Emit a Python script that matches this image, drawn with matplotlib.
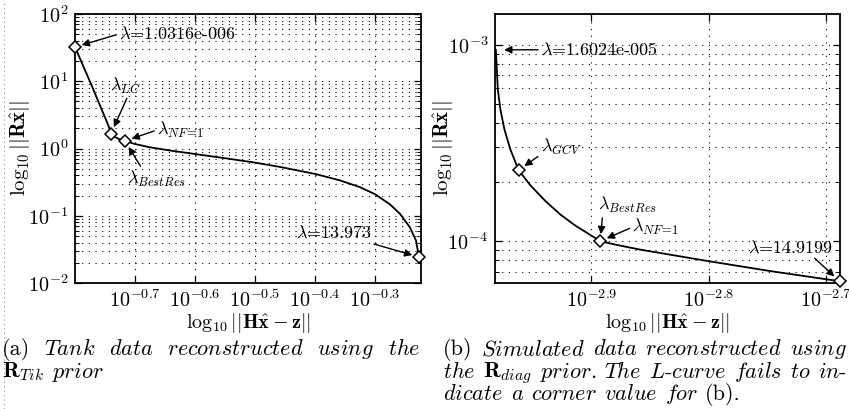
import numpy as np
import matplotlib
matplotlib.use("Agg")
import matplotlib.pyplot as plt
from matplotlib.ticker import FixedLocator, FixedFormatter, NullLocator, LogLocator, NullFormatter
from matplotlib.transforms import IdentityTransform
from matplotlib.lines import Line2D

plt.rcParams['font.family'] = 'serif'
plt.rcParams['font.serif'] = ['cmr10']
plt.rcParams['mathtext.fontset'] = 'cm'
plt.rcParams['axes.formatter.use_mathtext'] = True
plt.rcParams['axes.unicode_minus'] = False

# ---------------- data (a): tank data, R_Tik prior ----------------
res_a = [0.1585, 0.1691, 0.1803, 0.1820, 0.1841, 0.1876, 0.1920, 0.1995, 0.2113,
         0.2282, 0.2512, 0.2872, 0.3162, 0.3480, 0.3981, 0.4382, 0.4732, 0.5012,
         0.5309, 0.5516, 0.5731, 0.5866, 0.5933]
sol_a = [32.3, 8.5, 2.161, 1.671, 1.508, 1.385, 1.294, 1.166, 1.042,
         0.934, 0.828, 0.700, 0.617, 0.532, 0.419, 0.3355, 0.2658, 0.2091,
         0.1475, 0.1066, 0.0671, 0.0427, 0.02435]
mark_a_res = [0.1585, 0.1820, 0.1920, 0.5933]
mark_a_sol = [32.3, 1.671, 1.294, 0.02435]
xtick_a_exp = [-0.7, -0.6, -0.5, -0.4, -0.3]
xtick_a_labels = [r'$10^{-0.7}$', r'$10^{-0.6}$', r'$10^{-0.5}$', r'$10^{-0.4}$', r'$10^{-0.3}$']
xlim_a = (0.1585, 0.5979)
ylim_a = (1e-2, 1e2)

# ---------------- data (b): simulated data, R_diag prior ----------------
res_b = [0.0010440, 0.0010461, 0.0010481, 0.0010534, 0.0010617, 0.0010742, 0.0010917,
         0.0011171, 0.0011506, 0.0011848, 0.0012203, 0.0012565, 0.0012815, 0.0013195,
         0.0013858, 0.0015834, 0.0017876, 0.0020480]
sol_b = [9.43e-4, 7.46e-4, 5.91e-4, 4.68e-4, 3.71e-4, 2.93e-4, 2.30e-4,
         1.924e-4, 1.600e-4, 1.366e-4, 1.199e-4, 1.075e-4, 1.0e-4, 9.60e-5,
         9.05e-5, 7.91e-5, 7.04e-5, 6.25e-5]
mark_b_res = [0.0010917, 0.0012815, 0.0020480]
mark_b_sol = [2.30e-4, 1.0e-4, 6.25e-5]
xtick_b_exp = [-2.9, -2.8, -2.7]
xtick_b_labels = [r'$10^{-2.9}$', r'$10^{-2.8}$', r'$10^{-2.7}$']
xlim_b = (0.0010423, 0.0020479)
ylim_b = (6.12e-5, 1.435e-3)

# annotation labels
ann_a = [r'$\lambda$=1.0316e-006', r'$\lambda_{LC}$', r'$\lambda_{NF\!=\!1}$',
         r'$\lambda_{BestRes}$', r'$\lambda$=13.973']
ann_b = [r'$\lambda$=1.6024e-005', r'$\lambda_{GCV}$', r'$\lambda_{BestRes}$',
         r'$\lambda_{NF\!=\!1}$', r'$\lambda$=14.9199']

ylabel_txt = r'$\log_{10}||\mathbf{R}\hat{\mathbf{x}}||$'
xlabel_txt = r'$\log_{10}||\mathbf{H}\hat{\mathbf{x}}-\mathbf{z}||$'

cap_a = [[r'(a)', r'$\mathit{Tank}$', r'$\mathit{data}$', r'$\mathit{reconstructed}$',
          r'$\mathit{using}$', r'$\mathit{the}$'],
         [r'$\mathbf{R}_{Tik}$', r'$\mathit{prior}$']]
cap_b = [[r'(b)', r'$\mathit{Simulated}$', r'$\mathit{data}$', r'$\mathit{reconstructed}$',
          r'$\mathit{using}$'],
         [r'$\mathit{the}$', r'$\mathbf{R}_{diag}$', r'$\mathit{prior.}$', r'$\mathit{The}$',
          r'$\mathit{L}$-$\mathit{curve}$', r'$\mathit{fails}$', r'$\mathit{to}$', r'$\mathit{in}$-'],
         [r'$\mathit{dicate}$', r'$\mathit{a}$', r'$\mathit{corner}$', r'$\mathit{value}$',
          r'$\mathit{for}$', r'(b).']]

W, H = 849, 409
fig = plt.figure(figsize=(W / 100, H / 100), dpi=100)

def px_axes(l, r, t, b):
    return fig.add_axes([l / W, 1 - b / H, (r - l) / W, (b - t) / H])

ax_a = px_axes(75, 421, 14, 283)
ax_b = px_axes(495, 839.5, 14, 283)

TICK_FS = 14.5
ANN_FS = 13
grid_kw = dict(color='k', linestyle=(0, (1, 5)), linewidth=0.8)

def style_axes(ax, xexp, xlabels, xlim, ylim, ylab_x):
    ax.set_xscale('log')
    ax.set_yscale('log')
    ax.set_xlim(*xlim)
    ax.set_ylim(*ylim)
    ax.xaxis.set_major_locator(FixedLocator([10 ** e for e in xexp]))
    ax.xaxis.set_major_formatter(FixedFormatter(xlabels))
    ax.xaxis.set_minor_locator(NullLocator())
    ax.yaxis.set_major_locator(LogLocator(base=10))
    ax.yaxis.set_minor_locator(LogLocator(base=10, subs=np.arange(2, 10)))
    ax.yaxis.set_minor_formatter(NullFormatter())
    ax.tick_params(which='both', direction='in', top=True, right=True, labelsize=TICK_FS)
    ax.tick_params(which='major', length=5, width=0.9, pad=5)
    ax.tick_params(which='minor', length=3, width=0.7)
    ax.grid(True, which='major', axis='both', **grid_kw)
    ax.grid(True, which='minor', axis='y', **grid_kw)
    for s in ax.spines.values():
        s.set_linewidth(1.3)
    ax.set_ylabel(ylabel_txt, fontsize=15)
    ax.set_xlabel(xlabel_txt, fontsize=14.5, labelpad=0)
    ax.yaxis.set_label_coords(ylab_x, 0.5)

style_axes(ax_a, xtick_a_exp, xtick_a_labels, xlim_a, ylim_a, -0.122)
style_axes(ax_b, xtick_b_exp, xtick_b_labels, xlim_b, ylim_b, -0.113)

ax_a.plot(res_a, sol_a, color='k', lw=1.3, zorder=3)
ax_a.plot(mark_a_res, mark_a_sol, ls='none', marker='D', ms=6.5, mfc='white',
          mec='k', mew=1.1, clip_on=False, zorder=4)
ax_b.plot(res_b, sol_b, color='k', lw=1.3, zorder=3)
ax_b.plot(mark_b_res, mark_b_sol, ls='none', marker='D', ms=6.5, mfc='white',
          mec='k', mew=1.1, clip_on=False, zorder=4)

def ann(ax, text, xy, off_px, ha, va, relpos, shrinkB=5):
    ax.annotate(text, xy=xy, xytext=(off_px[0] * 0.72, off_px[1] * 0.72),
                textcoords='offset points', ha=ha, va=va, fontsize=ANN_FS, zorder=6,
                arrowprops=dict(arrowstyle='-|>', color='k', lw=1.0, mutation_scale=11,
                                shrinkA=0, shrinkB=shrinkB, relpos=relpos))

# (a) annotations
ann(ax_a, ann_a[0], (mark_a_res[0], mark_a_sol[0]), (44, 13), 'left', 'center', (0, 0.5))
ann(ax_a, ann_a[1], (mark_a_res[1], mark_a_sol[1]), (14, 48), 'center', 'center', (0.6, 0.0))
ann(ax_a, ann_a[2], (mark_a_res[2], mark_a_sol[2]), (32, 11), 'left', 'center', (0, 0.5))
ann(ax_a, ann_a[3], (mark_a_res[2], mark_a_sol[2]), (32, -38), 'center', 'center', (0.25, 1.0))
ann(ax_a, ann_a[4], (mark_a_res[3], mark_a_sol[3]), (-85, 24), 'center', 'center', (0.9, 0.0))

# (b) annotations
ann(ax_b, ann_b[0], (res_b[0], sol_b[0]), (45, 0), 'left', 'center', (0, 0.5), shrinkB=6)
ann(ax_b, ann_b[1], (mark_b_res[0], mark_b_sol[0]), (22, 23), 'left', 'center', (0.05, 0.2))
ann(ax_b, ann_b[2], (mark_b_res[1], mark_b_sol[1]), (-2, 36), 'left', 'center', (0.07, 0.0))
ann(ax_b, ann_b[3], (mark_b_res[1], mark_b_sol[1]), (32, 14), 'left', 'center', (0, 0.5))
ann(ax_b, ann_b[4], (mark_b_res[2], mark_b_sol[2]), (-49, 34), 'center', 'center', (0.75, 0.0))

# captions (justified lines)
CAP_FS = 16
renderer = fig.canvas.get_renderer()

def caption(lines, x0, x1, y0, dy):
    for i, words in enumerate(lines):
        y = H - (y0 + i * dy)
        texts = [fig.text(0, y, w, fontsize=CAP_FS, ha='left', va='baseline',
                          transform=IdentityTransform()) for w in words]
        widths = [t.get_window_extent(renderer).width for t in texts]
        last = (i == len(lines) - 1)
        if last or len(words) < 2:
            gap = CAP_FS * 100 / 72 * 0.33
        else:
            gap = (x1 - x0 - sum(widths)) / (len(words) - 1)
        x = x0
        for t, w in zip(texts, widths):
            t.set_x(x)
            x += w + gap

caption(cap_a, 2, 420, 355, 22.5)
caption(cap_b, 443, 847, 355, 22.5)

fig.add_artist(Line2D([4, 4], [0, H], transform=IdentityTransform(), color='0.55',
                      lw=0.8, ls=(0, (1, 3))))

fig.savefig('out.png', dpi=100)
